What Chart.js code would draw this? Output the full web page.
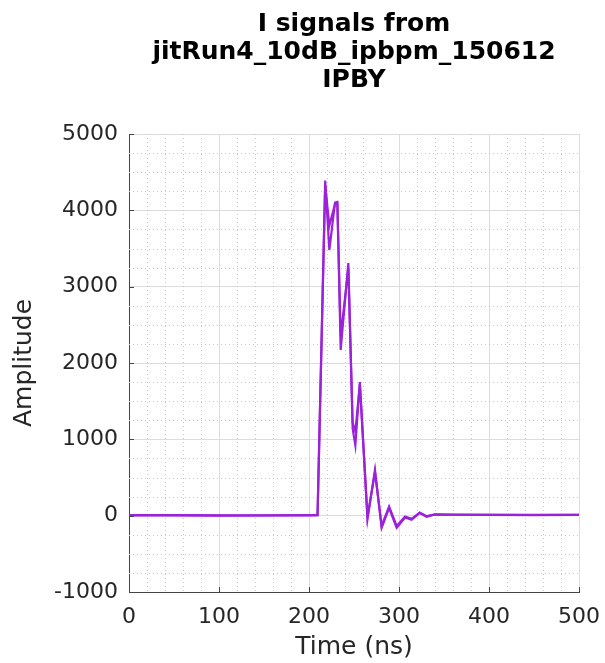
<!DOCTYPE html>
<html>
<head>
<meta charset="utf-8">
<script src="https://cdn.jsdelivr.net/npm/chart.js@4/dist/chart.umd.min.js"></script>
<style>
  html, body { margin: 0; padding: 0; background: #fff; }
  #wrap { width: 605px; height: 663px; }
</style>
</head>
<body>
<div id="wrap"><canvas id="signalChart" width="605" height="663"></canvas></div>
<script>
// sample times (ns)
const times = [0, 50, 100, 150, 200, 209.5, 218, 222.6, 228.9, 231.5, 235.2, 243.7, 248.5, 251.5, 256.5,
  265, 273.3, 280.7, 289, 297.4, 306.7, 314, 323, 330.7, 340, 360, 400, 450, 500];

// two overlapping I traces
const traceA = [5, 3, 0, 2, 4, 6, 4390, 3480, 4100, 4110, 2170, 3310, 1140, 920, 1750,
  -45, 600, -160, 100, -160, -25, -55, 35, -15, 15, 12, 10, 8, 10];
const traceB = [8, 6, 4, 5, 6, 8, 4330, 3800, 4080, 4090, 2350, 3240, 1220, 1100, 1720,
  -15, 570, -130, 120, -135, -12, -42, 42, -6, 17, 14, 12, 11, 12];

const xTicks = [0, 100, 200, 300, 400, 500];
const yTicks = [-1000, 0, 1000, 2000, 3000, 4000, 5000];
const xMinorStep = 20;
const yMinorStep = 250;

const lineColor = '#9b22d8';
const font = "'DejaVu Sans', 'Liberation Sans', Arial, sans-serif";

function points(vals) {
  return times.map((t, i) => ({ x: t, y: vals[i] }));
}

// dotted minor grid + inward tick marks, like the original plot
const minorGrid = {
  id: 'minorGrid',
  beforeDatasetsDraw(chart) {
    const { ctx, chartArea: a, scales: { x, y } } = chart;
    ctx.save();
    ctx.strokeStyle = '#c8c8c8';
    ctx.lineWidth = 1;
    ctx.setLineDash([1, 3]);
    for (let v = x.min; v <= x.max; v += xMinorStep) {
      if (v % 100 === 0) continue;
      const px = Math.round(x.getPixelForValue(v)) + 0.5;
      ctx.beginPath(); ctx.moveTo(px, a.top); ctx.lineTo(px, a.bottom); ctx.stroke();
    }
    for (let v = y.min; v <= y.max; v += yMinorStep) {
      if (v % 1000 === 0) continue;
      const py = Math.round(y.getPixelForValue(v)) + 0.5;
      ctx.beginPath(); ctx.moveTo(a.left, py); ctx.lineTo(a.right, py); ctx.stroke();
    }
    ctx.restore();
  },
  afterDatasetsDraw(chart) {
    const { ctx, chartArea: a, scales: { x, y } } = chart;
    ctx.save();
    ctx.strokeStyle = '#444';
    ctx.lineWidth = 1;
    xTicks.forEach((v) => {
      const px = Math.round(x.getPixelForValue(v)) + 0.5;
      ctx.beginPath(); ctx.moveTo(px, a.bottom); ctx.lineTo(px, a.bottom - 5); ctx.stroke();
    });
    yTicks.forEach((v) => {
      const py = Math.round(y.getPixelForValue(v)) + 0.5;
      ctx.beginPath(); ctx.moveTo(a.left, py); ctx.lineTo(a.left + 5, py); ctx.stroke();
    });
    ctx.restore();
  },
};

const ctx = document.getElementById('signalChart').getContext('2d');
new Chart(ctx, {
  type: 'line',
  data: {
    datasets: [
      { data: points(traceA), borderColor: lineColor, borderWidth: 2.2, pointRadius: 0, tension: 0, fill: false },
      { data: points(traceB), borderColor: lineColor, borderWidth: 2.2, pointRadius: 0, tension: 0, fill: false },
    ],
  },
  options: {
    responsive: false,
    animation: false,
    layout: { padding: { left: 0, right: 26, top: 0, bottom: 0 } },
    plugins: {
      legend: { display: false },
      tooltip: { enabled: false },
      title: {
        display: true,
        fullSize: false,
        text: ['I signals from', 'jitRun4_10dB_ipbpm_150612', 'IPBY'],
        color: '#000',
        font: { family: font, size: 25, weight: 'bold', lineHeight: 1.12 },
        padding: { top: 10, bottom: 40 },
      },
    },
    scales: {
      x: {
        type: 'linear',
        min: 0,
        max: 500,
        afterBuildTicks: (s) => { s.ticks = xTicks.map((v) => ({ value: v })); },
        afterFit: (s) => { s.height = 71; s.paddingLeft = 0; s.paddingRight = 0; },
        ticks: { color: '#262626', font: { family: font, size: 22 }, padding: 12, maxRotation: 0, callback: (v) => String(v) },
        grid: { color: '#dcdcdc', drawTicks: false },
        border: { display: true, color: '#444', width: 1 },
        title: { display: true, text: 'Time (ns)', color: '#262626', font: { family: font, size: 25 }, padding: { top: 0, bottom: 1 } },
      },
      y: {
        type: 'linear',
        min: -1000,
        max: 5000,
        afterBuildTicks: (s) => { s.ticks = yTicks.map((v) => ({ value: v })); },
        afterFit: (s) => { s.width = 129; s.paddingTop = 0; s.paddingBottom = 0; },
        ticks: { color: '#262626', font: { family: font, size: 22 }, padding: 11, callback: (v) => String(v) },
        grid: { color: '#dcdcdc', drawTicks: false },
        border: { display: true, color: '#444', width: 1 },
        title: { display: true, text: 'Amplitude', color: '#262626', font: { family: font, size: 25 }, padding: { top: 9, bottom: 0 } },
      },
    },
  },
  plugins: [minorGrid],
});
</script>
</body>
</html>
